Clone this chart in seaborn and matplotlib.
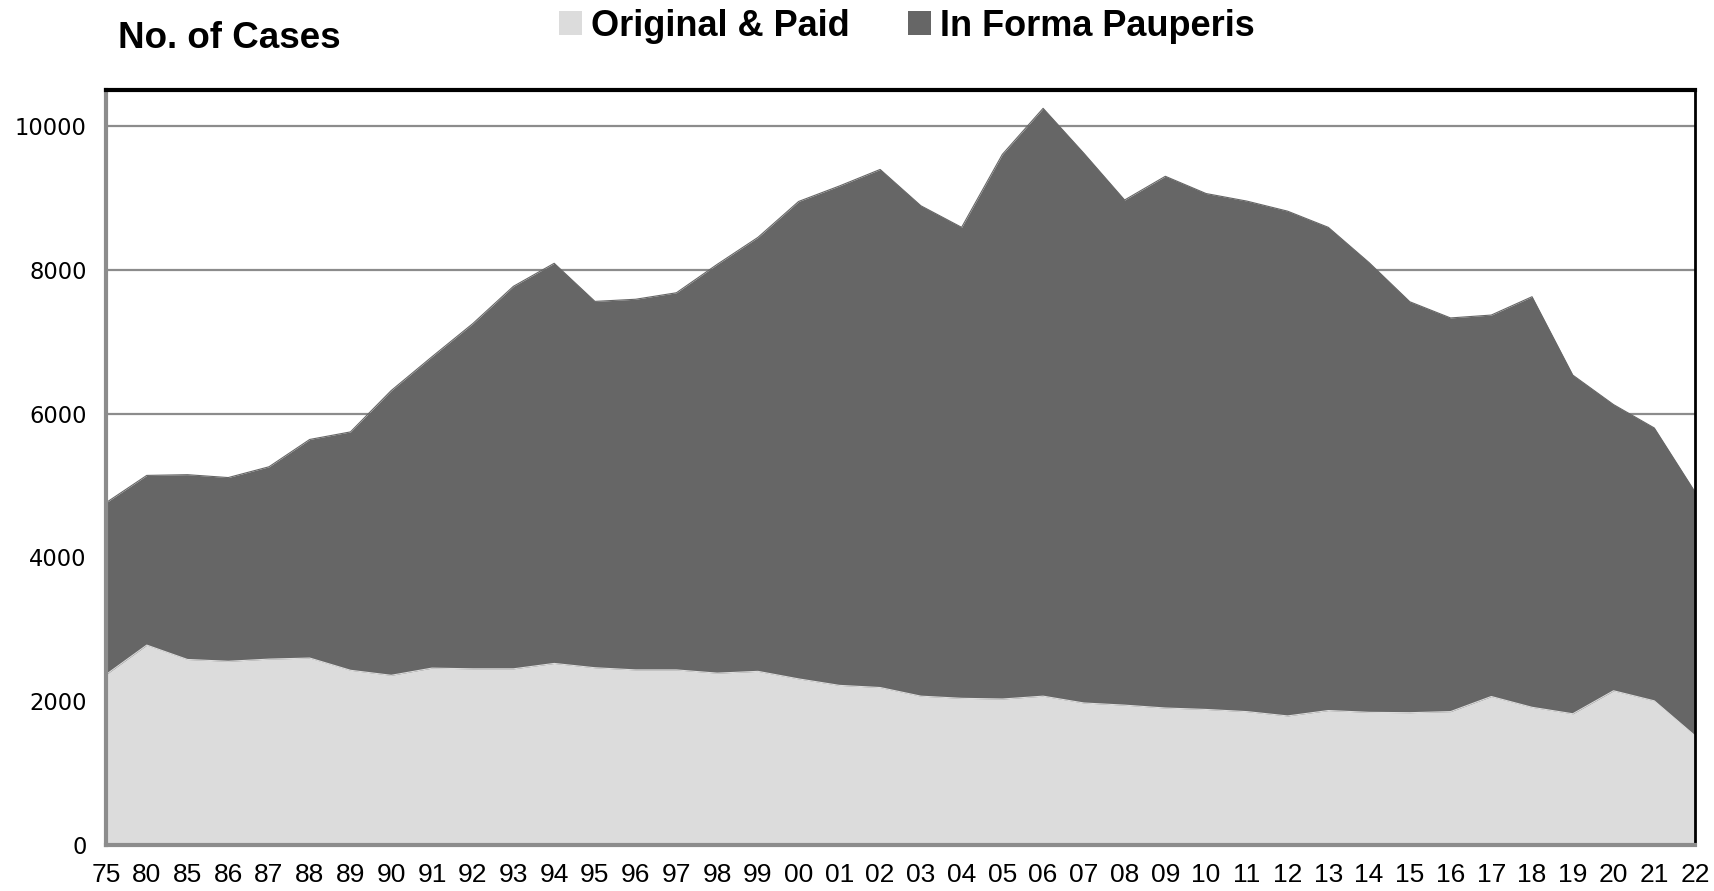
import matplotlib
matplotlib.use("Agg")
import matplotlib.pyplot as plt
from matplotlib.patches import Patch
from matplotlib import font_manager
import seaborn as sns
import pandas as pd

# annees (labels de l'axe x) et nombre de cas
years = ["75", "80", "85", "86", "87", "88", "89", "90", "91", "92", "93", "94",
         "95", "96", "97", "98", "99", "00", "01", "02", "03", "04", "05", "06",
         "07", "08", "09", "10", "11", "12", "13", "14", "15", "16", "17", "18",
         "19", "20", "21", "22"]
paid = [2370, 2780, 2580, 2555, 2585, 2600, 2430, 2360, 2460, 2450, 2450, 2525,
        2465, 2435, 2435, 2390, 2415, 2310, 2220, 2190, 2070, 2040, 2030, 2070,
        1975, 1945, 1905, 1885, 1855, 1795, 1870, 1845, 1840, 1855, 2065, 1915,
        1825, 2145, 2005, 1520]
total = [4760, 5140, 5150, 5110, 5260, 5640, 5745, 6320, 6790, 7250, 7770, 8090,
         7560, 7590, 7680, 8075, 8450, 8950, 9165, 9395, 8890, 8590, 9605, 10245,
         9620, 8970, 9300, 9060, 8955, 8815, 8590, 8100, 7555, 7330, 7370, 7625,
         6535, 6125, 5800, 4910]
series_names = ["Original & Paid", "In Forma Pauperis"]
y_ticks = [0, 2000, 4000, 6000, 8000, 10000]

LIGHT = "#dcdcdc"
DARK = "#666666"

df = pd.DataFrame({"year": years, "paid": paid, "total": total})
df["pos"] = range(len(df))

sns.set_theme(style="white")
plt.rcParams["font.family"] = ["DejaVu Sans"]
plt.rcParams["text.color"] = "black"

installed = {f.name for f in font_manager.fontManager.ttflist}
narrow = "Liberation Sans Narrow" if "Liberation Sans Narrow" in installed else "Liberation Sans"

fig = plt.figure(figsize=(17.14, 8.91), dpi=100)
ax = fig.add_axes([106 / 1714, 1 - 845 / 891, (1695 - 106) / 1714, (845 - 90) / 891])

# surfaces empilees : Original & Paid en bas, In Forma Pauperis au-dessus
ax.fill_between(df["pos"], 0, df["total"], color=DARK, lw=0, zorder=2)
ax.fill_between(df["pos"], 0, df["paid"], color=LIGHT, lw=0, zorder=3)
sns.lineplot(data=df, x="pos", y="total", color=DARK, lw=0.8, ax=ax, zorder=2)
sns.lineplot(data=df, x="pos", y="paid", color=LIGHT, lw=0.8, ax=ax, zorder=3)

ax.set_xlim(0, len(df) - 1)
ax.set_ylim(0, 10500)
ax.set_yticks(y_ticks)
ax.set_yticklabels([str(v) for v in y_ticks], fontsize=16.3)
ax.set_xticks(df["pos"])
ax.set_xticklabels(years, fontsize=21 if narrow != "Liberation Sans" else 19, family=narrow)
ax.set_xlabel("")
ax.set_ylabel("")

ax.yaxis.grid(True, color="#8c8c8c", lw=1.6, zorder=1)
ax.xaxis.grid(False)
ax.set_axisbelow(True)

for side in ["left", "bottom"]:
    ax.spines[side].set_color("#8c8c8c")
    ax.spines[side].set_linewidth(3)
ax.spines["top"].set_color("black")
ax.spines["top"].set_linewidth(3)
ax.spines["right"].set_color("black")
ax.spines["right"].set_linewidth(2)
for s in ax.spines.values():
    s.set_zorder(5)

ax.tick_params(axis="x", direction="out", length=9, width=2.5, color="#8c8c8c",
               pad=4, labelcolor="black")
ax.tick_params(axis="y", length=0, pad=14, labelcolor="black")

fig.text(118 / 1714, 1 - 38 / 891, "No. of Cases", fontsize=26.5, fontweight="bold",
         family="Liberation Sans", va="center", ha="left", color="black")

handles = [Patch(facecolor=LIGHT, edgecolor="none"), Patch(facecolor=DARK, edgecolor="none")]
leg = fig.legend(handles, series_names, loc="center", bbox_to_anchor=(0.529, 1 - 26 / 891),
                 ncol=2, frameon=False, handlelength=0.65, handleheight=0.65,
                 handletextpad=0.25, columnspacing=1.6,
                 prop={"family": "Liberation Sans", "weight": "bold", "size": 26})
for t in leg.get_texts():
    t.set_color("black")

fig.savefig("out.png", dpi=100)
